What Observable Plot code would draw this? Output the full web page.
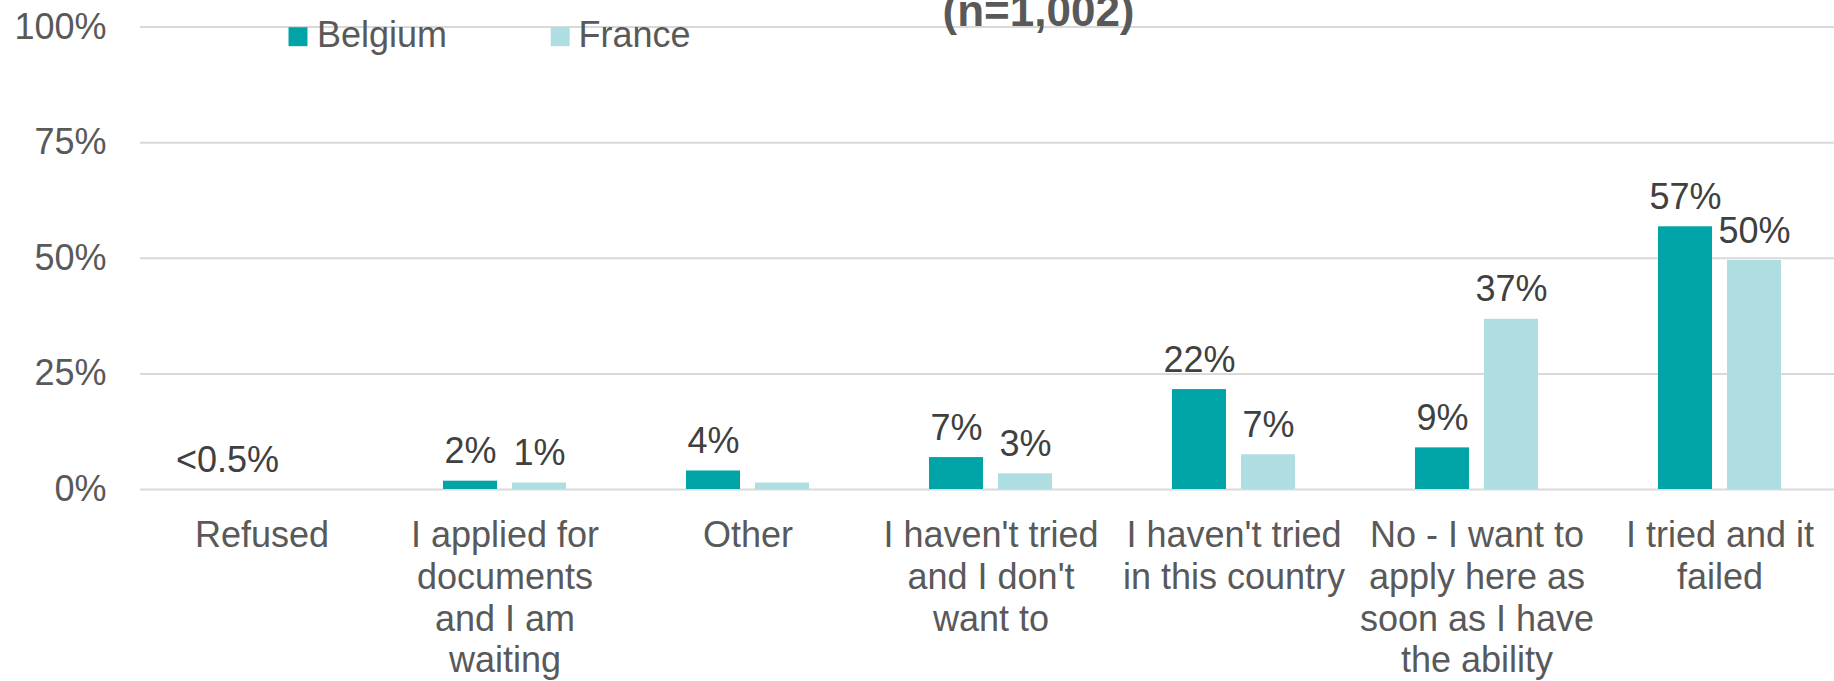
<!DOCTYPE html>
<html><head><meta charset="utf-8">
<script src="https://cdn.jsdelivr.net/npm/d3@7"></script>
<script src="https://cdn.jsdelivr.net/npm/@observablehq/plot@0.6"></script>
<style>
body{margin:0;background:#fff;}
#chart{position:relative;width:1834px;height:681px;overflow:hidden;}
</style>
</head><body><div id="chart"></div>
<script>
const categories = [
  "Refused",
  "I applied for\ndocuments\nand I am\nwaiting",
  "Other",
  "I haven't tried\nand I don't\nwant to",
  "I haven't tried\nin this country",
  "No - I want to\napply here as\nsoon as I have\nthe ability",
  "I tried and it\nfailed"
];
const countries = ["Belgium", "France"];
const belgiumValues = [0, 1.8, 4.0, 6.9, 21.6, 9.0, 56.8];
const franceValues  = [0, 1.4, 1.4, 3.4, 7.5, 36.8, 49.5];
const belgiumLabels = ["<0.5%", "2%", "4%", "7%", "22%", "9%", "57%"];
const franceLabels  = ["", "1%", "", "3%", "7%", "37%", "50%"];
const yTicks = [0, 25, 50, 75, 100];
const colors = ["#00A3A6", "#AFDEE2"];
const titleText = "(n=1,002)";

const data = [];
categories.forEach((c, i) => {
  data.push({category: c, country: countries[0], value: belgiumValues[i], label: belgiumLabels[i]});
  data.push({category: c, country: countries[1], value: franceValues[i], label: franceLabels[i]});
});

const W = 1834, H = 681;
const mL = 137, mT = 26.5;
const fontFamily = "'Liberation Sans', Arial, sans-serif";

const legendMarks = countries.flatMap((c, i) => {
  const sx = [294.5, 556.7][i];
  const tx = [313.5, 575][i];
  return [
    Plot.dot([c], {frameAnchor: "top-left", dx: sx - mL, dy: 36.2 - mT, symbol: "square", r: 10.7, fill: colors[i], stroke: null, facet: "super"}),
    Plot.text([c], {frameAnchor: "top-left", dx: tx - mL, dy: 46 - mT, text: d => d, textAnchor: "start", lineAnchor: "bottom", fontSize: 36, fill: "#595959", facet: "super"})
  ];
});

const chart = Plot.plot({
  width: W,
  height: H,
  marginLeft: mL,
  marginRight: -9.6,
  marginTop: mT,
  marginBottom: H - 489,
  style: {fontFamily, fontSize: "36px", color: "#595959", background: "#fff", overflow: "visible"},
  fx: {domain: categories, padding: 0, label: null},
  x: {domain: countries, paddingInner: 0.2165, paddingOuter: 0.867, axis: null},
  y: {domain: [0, 100], axis: null},
  color: {domain: countries, range: colors},
  marks: [
    Plot.gridY(yTicks, {stroke: "#d9d9d9", strokeOpacity: 1, strokeWidth: 2}),
    Plot.axisY({ticks: yTicks, tickFormat: d => d + "%", tickSize: 0, tickPadding: 34, fontSize: 36, label: null, fill: "#595959"}),
    Plot.axisFx({anchor: "bottom", tickSize: 0, tickPadding: 28, fontSize: 36, lineHeight: 1.16, label: null, fill: "#595959"}),
    Plot.barY(data, {fx: "category", x: "country", y: "value", fill: "country"}),
    Plot.text(data, {fx: "category", x: "country", y: "value", text: "label", lineAnchor: "bottom", dy: -18, fontSize: 36, fill: "#404040"}),
    Plot.text([titleText], {frameAnchor: "top-left", dx: 1035 - mL, dy: 25 - mT, text: d => d, textAnchor: "middle", lineAnchor: "bottom", fontSize: 44, fontWeight: "bold", fill: "#595959", facet: "super"}),
    ...legendMarks
  ]
});
document.getElementById("chart").appendChild(chart);
</script>
</body></html>
